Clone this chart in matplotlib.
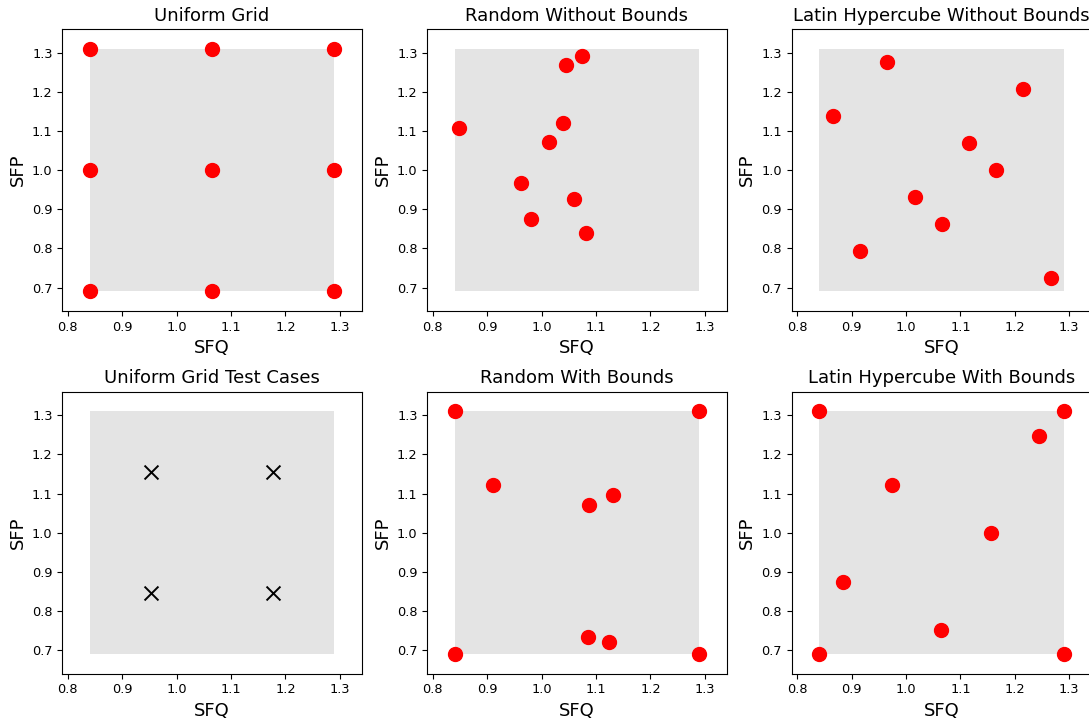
import numpy as np
import matplotlib.pyplot as plt
from matplotlib.patches import Rectangle

# bounds of the SFQ / SFP design space
sfq_bounds = [0.84, 1.29]
sfp_bounds = [0.69, 1.31]

# sample points
grid_sfq = [0.84, 0.84, 0.84, 1.065, 1.065, 1.065, 1.29, 1.29, 1.29]
grid_sfp = [0.69, 1.0, 1.31, 0.69, 1.0, 1.31, 0.69, 1.0, 1.31]

rand_sfq = [0.849, 1.045, 1.074, 1.039, 1.0135, 0.962, 1.059, 0.981, 1.082]
rand_sfp = [1.108, 1.269, 1.290, 1.120, 1.072, 0.966, 0.926, 0.874, 0.839]

lhs_sfq = [0.866, 0.966, 1.215, 1.116, 1.166, 1.016, 1.066, 0.916, 1.266]
lhs_sfp = [1.137, 1.276, 1.207, 1.069, 1.0, 0.931, 0.862, 0.794, 0.724]

test_sfq = [0.9525, 1.1775, 0.9525, 1.1775]
test_sfp = [1.155, 1.155, 0.845, 0.845]

rand_b_sfq = [0.84, 1.29, 0.911, 1.087, 1.132, 1.086, 1.123, 0.84, 1.29]
rand_b_sfp = [1.31, 1.31, 1.121, 1.071, 1.097, 0.734, 0.721, 0.69, 0.69]

lhs_b_sfq = [0.84, 1.29, 0.84, 1.29, 1.245, 0.974, 1.156, 0.885, 1.065]
lhs_b_sfp = [1.31, 1.31, 0.69, 0.69, 1.248, 1.123, 1.0, 0.875, 0.751]

titles = ["Uniform Grid", "Random Without Bounds", "Latin Hypercube Without Bounds",
          "Uniform Grid Test Cases", "Random With Bounds", "Latin Hypercube With Bounds"]
samples = [(grid_sfq, grid_sfp), (rand_sfq, rand_sfp), (lhs_sfq, lhs_sfp),
           (test_sfq, test_sfp), (rand_b_sfq, rand_b_sfp), (lhs_b_sfq, lhs_b_sfp)]

W, H = 1089, 719
fig = plt.figure(figsize=(W / 100, H / 100), dpi=100)

lefts = [62.3, 427.3, 791.7]
tops = [29, 391.7]
ax_w, ax_h = 299.3, 282

for i, (title, (xs, ys)) in enumerate(zip(titles, samples)):
    row, col = divmod(i, 3)
    ax = fig.add_axes([lefts[col] / W, 1 - (tops[row] + ax_h) / H, ax_w / W, ax_h / H])
    ax.add_patch(Rectangle((sfq_bounds[0], sfp_bounds[0]),
                           sfq_bounds[1] - sfq_bounds[0], sfp_bounds[1] - sfp_bounds[0],
                           facecolor="#e4e4e4", edgecolor="none", zorder=1))
    if title == "Uniform Grid Test Cases":
        ax.scatter(xs, ys, marker="x", s=100, color="black", linewidths=1.4, zorder=3)
    else:
        ax.scatter(xs, ys, s=100, color="red", zorder=3)
    ax.set_xlim(0.79, 1.34)
    ax.set_ylim(0.64, 1.36)
    ax.set_xticks(np.arange(0.8, 1.31, 0.1))
    ax.set_yticks(np.arange(0.7, 1.31, 0.1))
    ax.tick_params(labelsize=9.3)
    ax.set_title(title, fontsize=13)
    ax.set_xlabel("SFQ", fontsize=13)
    ax.set_ylabel("SFP", fontsize=13)

fig.savefig("out.png", dpi=100)
